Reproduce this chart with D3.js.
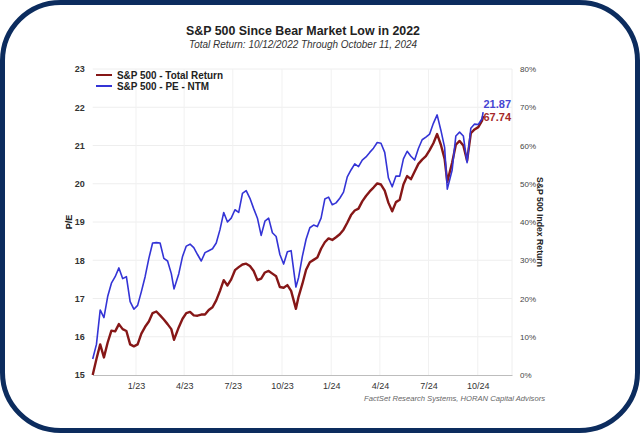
<!DOCTYPE html>
<html><head><meta charset="utf-8">
<script src="https://cdn.jsdelivr.net/npm/d3@7"></script>
<style>body{margin:0;background:#fff}svg{display:block;font-family:"Liberation Sans",Arial,sans-serif}</style>
</head><body>
<svg id="c" width="640" height="433"></svg>
<script>
const dates = [
"2022-10-12","2022-10-19","2022-10-26","2022-11-02","2022-11-09","2022-11-16","2022-11-23","2022-11-30","2022-12-07","2022-12-14","2022-12-21","2022-12-28",
"2023-01-04","2023-01-11","2023-01-18","2023-01-25","2023-02-01","2023-02-08","2023-02-15","2023-02-22","2023-03-01","2023-03-08","2023-03-13","2023-03-22","2023-03-29","2023-04-05","2023-04-12","2023-04-19","2023-04-26","2023-05-03","2023-05-10","2023-05-17","2023-05-24","2023-05-31","2023-06-07","2023-06-14","2023-06-21","2023-06-28","2023-07-05","2023-07-12","2023-07-19","2023-07-26","2023-08-02","2023-08-09","2023-08-16","2023-08-23","2023-08-30","2023-09-06","2023-09-13","2023-09-20","2023-09-27","2023-10-04","2023-10-11","2023-10-18","2023-10-27","2023-11-01","2023-11-08","2023-11-15","2023-11-22","2023-11-29","2023-12-06","2023-12-13","2023-12-20","2023-12-27",
"2024-01-03","2024-01-10","2024-01-17","2024-01-24","2024-01-31","2024-02-07","2024-02-14","2024-02-21","2024-02-28","2024-03-06","2024-03-13","2024-03-20","2024-03-27","2024-04-03","2024-04-10","2024-04-17","2024-04-24","2024-05-01","2024-05-08","2024-05-15","2024-05-22","2024-05-29","2024-06-05","2024-06-12","2024-06-19","2024-06-26","2024-07-03","2024-07-10","2024-07-17","2024-07-24","2024-07-31","2024-08-05","2024-08-14","2024-08-21","2024-08-28","2024-09-04","2024-09-11","2024-09-18","2024-09-25","2024-10-02","2024-10-09","2024-10-11"];

const peNTM = [
15.42,15.80,16.70,16.50,17.05,17.40,17.57,17.80,17.52,17.57,16.92,16.72,
16.82,17.18,17.57,18.05,18.45,18.46,18.45,18.05,17.98,17.65,17.25,17.65,18.10,18.37,18.42,18.33,18.15,17.98,18.20,18.25,18.30,18.45,18.80,19.25,19.00,19.10,19.32,19.25,19.75,19.82,19.62,19.35,19.10,18.65,19.02,19.10,18.72,18.62,18.15,17.90,18.22,18.25,17.30,17.55,18.10,18.55,18.85,18.92,18.88,19.10,19.60,19.65,
19.45,19.50,19.62,19.78,20.18,20.36,20.52,20.45,20.62,20.70,20.82,20.93,21.08,21.06,20.82,20.15,19.92,20.20,20.20,20.65,20.85,20.72,20.62,20.92,21.15,21.22,21.30,21.58,21.80,21.40,20.95,19.86,20.35,21.25,21.35,21.25,20.55,21.45,21.56,21.55,21.70,21.87];

const totalReturn = [
0,4.2,8.0,4.6,8.5,11.6,11.4,13.3,12.0,11.5,8.0,7.5,
8.0,10.8,12.6,14.0,16.2,16.6,15.6,14.5,13.3,12.0,9.2,12.5,14.7,16.2,16.5,15.6,15.5,15.8,15.8,17.0,17.7,19.5,22.0,24.8,23.4,25.0,27.4,28.2,28.9,29.1,28.5,27.2,24.8,25.2,26.8,27.2,26.5,25.8,23.0,22.8,23.5,22.0,17.3,20.5,23.8,27.5,29.5,30.1,30.7,33.0,34.7,35.7,
35.3,36.0,36.8,38.0,39.8,41.8,43.0,43.5,45.4,46.8,48.0,49.0,50.1,49.8,48.2,45.0,42.8,45.2,45.8,49.8,52.0,51.2,53.2,55.2,56.3,57.2,58.8,60.6,63.0,60.2,56.5,50.5,55.5,60.2,61.2,60.0,56.0,63.2,64.2,64.8,66.5,67.74];

const xTickDates = ["2023-01-01","2023-04-01","2023-07-01","2023-10-01","2024-01-01","2024-04-01","2024-07-01","2024-10-01"];
const xTickLabels = ["1/23","4/23","7/23","10/23","1/24","4/24","7/24","10/24"];
const peTicks = [15,16,17,18,19,20,21,22,23];
const returnTicks = [0,10,20,30,40,50,60,70,80];
const seriesNames = ["S&P 500 - Total Return","S&P 500 - PE - NTM"];

const parse = d3.timeParse("%Y-%m-%d");
const svg = d3.select("#c");
const L = 92.7, R = 512, T = 69, B = 375;
const RED = "#861717", BLUE = "#3434d6";

// frame
svg.append("rect").attr("x",2.5).attr("y",2.5).attr("width",635).attr("height",428)
  .attr("rx",58).attr("ry",58).attr("fill","#fff").attr("stroke","#0c2c5e").attr("stroke-width",5);

const x = d3.scaleTime().domain([parse("2022-10-12"), parse("2024-12-04")]).range([L, R]);
const yL = d3.scaleLinear().domain([15,23]).range([B,T]);
const yR = d3.scaleLinear().domain([0,80]).range([B,T]);

// grid
svg.append("g").selectAll("line").data(peTicks.slice(1)).join("line")
  .attr("x1",L).attr("x2",R).attr("y1",d=>yL(d)).attr("y2",d=>yL(d))
  .attr("stroke","#eeeeee").attr("stroke-width",1);
svg.append("g").selectAll("line").data(xTickDates).join("line")
  .attr("x1",d=>x(parse(d))).attr("x2",d=>x(parse(d))).attr("y1",T).attr("y2",B)
  .attr("stroke","#f1f1f1").attr("stroke-width",1);
svg.append("line").attr("x1",R).attr("x2",R).attr("y1",T).attr("y2",B).attr("stroke","#eeeeee");

// axes
const gx = svg.append("g").attr("transform",`translate(0,${B})`)
  .call(d3.axisBottom(x).tickValues(xTickDates.map(parse)).tickFormat((d,i)=>xTickLabels[i]).tickSize(0).tickSizeOuter(0).tickPadding(8));
gx.select(".domain").attr("stroke","#bdbdbd");
gx.selectAll("text").attr("font-size",9).attr("fill","#333").attr("font-family","Liberation Sans, Arial, sans-serif");

const gl = svg.append("g").attr("transform",`translate(${L},0)`)
  .call(d3.axisLeft(yL).tickValues(peTicks).tickSize(0).tickPadding(8));
gl.select(".domain").remove();
gl.selectAll("text").attr("font-size",9).attr("font-weight","bold").attr("fill","#333").attr("font-family","Liberation Sans, Arial, sans-serif");

const gr = svg.append("g").attr("transform",`translate(${R},0)`)
  .call(d3.axisRight(yR).tickValues(returnTicks).tickFormat(d=>d+"%").tickSize(0).tickPadding(8));
gr.select(".domain").remove();
gr.selectAll("text").attr("font-size",8).attr("fill","#444").attr("font-family","Liberation Sans, Arial, sans-serif");

// lines
const trData = dates.map((d,i)=>({date:parse(d), v:totalReturn[i]}));
const peData = dates.map((d,i)=>({date:parse(d), v:peNTM[i]}));
svg.append("path").datum(trData).attr("fill","none").attr("stroke",RED).attr("stroke-width",2.4)
  .attr("stroke-linejoin","round").attr("d", d3.line().x(d=>x(d.date)).y(d=>yR(d.v)));
svg.append("path").datum(peData).attr("fill","none").attr("stroke",BLUE).attr("stroke-width",1.6)
  .attr("stroke-linejoin","round").attr("d", d3.line().x(d=>x(d.date)).y(d=>yL(d.v)));

// end labels
svg.append("text").attr("x",511).attr("y",108).attr("text-anchor","end").attr("font-size",11).attr("font-weight","bold")
  .attr("fill","#4646d2").text(peNTM[peNTM.length-1].toFixed(2));
svg.append("text").attr("x",511).attr("y",121).attr("text-anchor","end").attr("font-size",11).attr("font-weight","bold")
  .attr("fill","#a52a2a").text(totalReturn[totalReturn.length-1].toFixed(2));

// legend
const leg = [{c:RED,y:75,w:106},{c:BLUE,y:86,w:92}];
leg.forEach((l,i)=>{
  svg.append("line").attr("x1",96).attr("x2",112).attr("y1",l.y).attr("y2",l.y).attr("stroke",l.c).attr("stroke-width",2);
  svg.append("text").attr("x",117).attr("y",l.y+3.8).attr("font-size",10).attr("font-weight","bold").attr("fill","#222")
    .attr("textLength",l.w).attr("lengthAdjust","spacingAndGlyphs").text(seriesNames[i]);
});

// titles
svg.append("text").attr("x",303).attr("y",35).attr("text-anchor","middle").attr("font-size",13).attr("font-weight","bold")
  .attr("fill","#222").attr("textLength",234).attr("lengthAdjust","spacingAndGlyphs").text("S&P 500 Since Bear Market Low in 2022");
svg.append("text").attr("x",303).attr("y",48).attr("text-anchor","middle").attr("font-size",10.5).attr("font-style","italic")
  .attr("fill","#333").attr("textLength",228).attr("lengthAdjust","spacingAndGlyphs").text("Total Return: 10/12/2022 Through October 11, 2024");
svg.append("text").attr("transform","translate(72,222) rotate(-90)").attr("text-anchor","middle").attr("font-size",9)
  .attr("font-weight","bold").attr("fill","#222").text("P/E");
svg.append("text").attr("transform","translate(537,222) rotate(90)").attr("text-anchor","middle").attr("font-size",9)
  .attr("font-weight","bold").attr("fill","#222").attr("textLength",90).attr("lengthAdjust","spacingAndGlyphs").text("S&P 500 Index Return");
svg.append("text").attr("x",545).attr("y",401).attr("text-anchor","end").attr("font-size",8).attr("font-style","italic")
  .attr("fill","#666").attr("textLength",181).attr("lengthAdjust","spacingAndGlyphs").text("FactSet Research Systems, HORAN Capital Advisors");
</script>
</body></html>
